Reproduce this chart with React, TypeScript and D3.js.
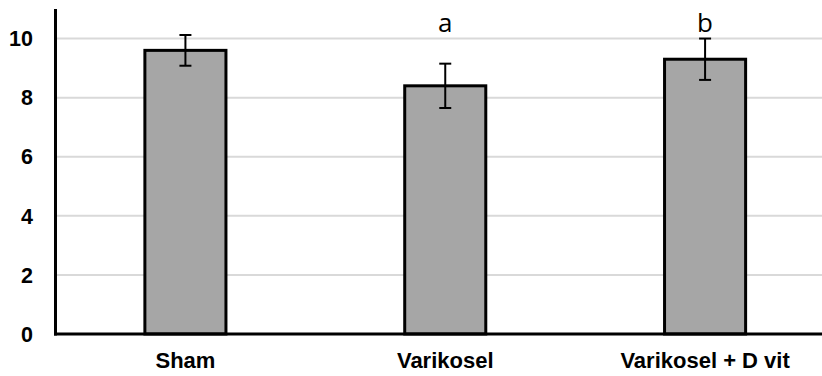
import React from 'react';
import * as d3 from 'd3';

const categories = ['Sham', 'Varikosel', 'Varikosel + D vit'];
const means = [9.6, 8.4, 9.3];
const errors = [0.52, 0.75, 0.7];
const letters = ['', 'a', 'b'];
const yTicks = [0, 2, 4, 6, 8, 10];

const App = () => {
  const width = 822, height = 376;
  const marginLeft = 55.5, baseY = 334, topY = 9;

  const x = d3.scaleBand()
    .domain(categories)
    .range([marginLeft, 835])
    .paddingInner(0.688)
    .paddingOuter(0.344);

  const y = d3.scaleLinear()
    .domain([0, 11])
    .range([baseY, topY]);

  const capW = 12;

  return (
    <svg width={width} height={height} style={{ position: 'absolute', left: 0, top: 0, background: '#fff' }}>
      {/* gridlines */}
      {yTicks.filter(t => t > 0).map(t => (
        <line key={'g' + t} x1={marginLeft} x2={width} y1={y(t)} y2={y(t)} stroke="#d9d9d9" strokeWidth={2} />
      ))}

      {/* bars */}
      {categories.map((c, i) => (
        <rect key={c} x={x(c)} y={y(means[i])} width={x.bandwidth()} height={y(0) - y(means[i])}
          fill="#a6a6a6" stroke="#000" strokeWidth={3} />
      ))}

      {/* error bars */}
      {categories.map((c, i) => {
        const cx = (x(c) as number) + x.bandwidth() / 2;
        const hi = y(means[i] + errors[i]), lo = y(means[i] - errors[i]);
        return (
          <g key={'e' + c} stroke="#000" strokeWidth={2}>
            <line x1={cx} x2={cx} y1={hi} y2={lo} />
            <line x1={cx - capW / 2} x2={cx + capW / 2} y1={hi} y2={hi} />
            <line x1={cx - capW / 2} x2={cx + capW / 2} y1={lo} y2={lo} />
          </g>
        );
      })}

      {/* significance letters */}
      {categories.map((c, i) => (
        <text key={'l' + c} x={(x(c) as number) + x.bandwidth() / 2} y={32} textAnchor="middle"
          fontFamily="'Open Sans', sans-serif" fontSize={26} fill="#000">{letters[i]}</text>
      ))}

      {/* axes */}
      <line x1={marginLeft} x2={marginLeft} y1={topY} y2={baseY + 1.5} stroke="#000" strokeWidth={3} />
      <line x1={marginLeft - 1.5} x2={width} y1={baseY} y2={baseY} stroke="#000" strokeWidth={3} />

      {/* y tick labels */}
      {yTicks.map(t => (
        <text key={'t' + t} x={33} y={y(t)} dy="0.36em" textAnchor="end"
          fontFamily="'Liberation Sans', Arial, sans-serif" fontWeight="bold" fontSize={21.5} fill="#000">{t}</text>
      ))}

      {/* category labels */}
      {categories.map(c => (
        <text key={'c' + c} x={(x(c) as number) + x.bandwidth() / 2} y={368} textAnchor="middle"
          fontFamily="'Liberation Sans', Arial, sans-serif" fontWeight="bold" fontSize={22} fill="#000">{c}</text>
      ))}
    </svg>
  );
};

export default App;
